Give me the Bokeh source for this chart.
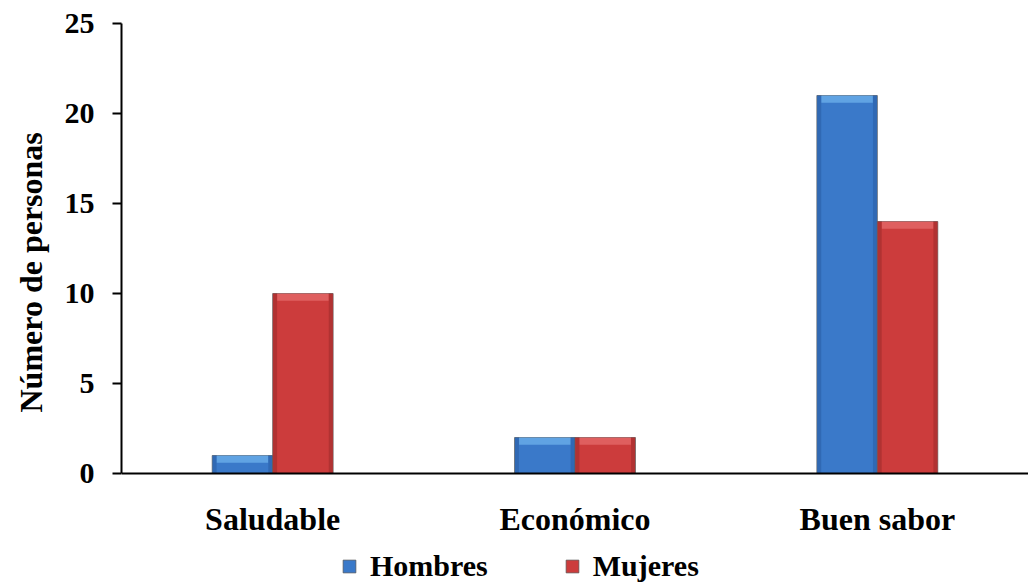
from bokeh.plotting import figure
from bokeh.models import ColumnDataSource, Legend, LegendItem, FactorRange, Range1d, Span, Title
from bokeh.core.properties import value
from bokeh.transform import dodge
from bokeh.embed import file_html
from bokeh.resources import INLINE

# Preferences by sex
categories = ["Saludable", "Económico", "Buen sabor"]
hombres = [1, 2, 21]
mujeres = [10, 2, 14]
series_names = ["Hombres", "Mujeres"]
y_ticks = [0, 5, 10, 15, 20, 25]

FONT = "Liberation Serif"

src = ColumnDataSource(data=dict(
    cat=categories,
    hombres=hombres,
    mujeres=mujeres,
    hombres_hi=[v - min(v * 0.5, 0.4) for v in hombres],
    mujeres_hi=[v - min(v * 0.5, 0.4) for v in mujeres],
))

# the frame reaches down to the canvas edge so the legend can sit under the labels
p = figure(
    x_range=FactorRange(*categories, range_padding=0),
    y_range=Range1d(-6.11, 25),
    width=1028, height=583,
    min_border_left=121, min_border_right=0,
    min_border_top=23, min_border_bottom=0,
    output_backend="svg", toolbar_location=None,
)

# (name, value column, highlight column, offset, fill, side shade, top highlight)
styles = [
    ("Hombres", "hombres", "hombres_hi", -0.1, "#3a79c9", "#2d64ac", "#6aaeea"),
    ("Mujeres", "mujeres", "mujeres_hi", 0.1, "#cc3c3c", "#a82f2f", "#e46868"),
]

legend_items = []
for name, col, hi, off, fill, side, light in styles:
    main = p.vbar(x=dodge("cat", off, range=p.x_range), top=col, width=0.2,
                  source=src, fill_color=fill, line_color="#555555",
                  line_alpha=0.7, line_width=1)
    # darker bevel along both vertical edges
    for d in (-0.092, 0.092):
        p.vbar(x=dodge("cat", off + d, range=p.x_range), top=col, width=0.013,
               source=src, fill_color=side, fill_alpha=0.75, line_color=None)
    # light bevel along the top
    p.vbar(x=dodge("cat", off, range=p.x_range), top=col, bottom=hi, width=0.17,
           source=src, fill_color=light, fill_alpha=0.8, line_color=None)
    legend_items.append(LegendItem(label=name, renderers=[main]))

# category labels under the baseline
p.text(x="cat", y=0, text="cat", source=src, y_offset=45,
       text_align="center", text_baseline="alphabetic",
       text_font=value(FONT), text_font_style="bold", text_font_size="32px",
       text_color="black")

# baseline at zero
p.add_layout(Span(location=0, dimension="width", line_color="black", line_width=2))

p.xgrid.grid_line_color = None
p.ygrid.grid_line_color = None
p.outline_line_color = None
p.background_fill_color = "white"
p.border_fill_color = "white"
p.xaxis.visible = False

# y axis
p.yaxis.ticker = y_ticks
p.yaxis.bounds = (0, 25)
p.yaxis.major_label_text_font = FONT
p.yaxis.major_label_text_font_style = "bold"
p.yaxis.major_label_text_font_size = "30px"
p.yaxis.major_label_text_color = "black"
p.yaxis.major_label_standoff = 18
p.yaxis.major_tick_out = 9
p.yaxis.major_tick_in = 0
p.yaxis.minor_tick_line_color = None
p.yaxis.axis_line_width = 2
p.yaxis.major_tick_line_width = 2
p.yaxis.axis_line_color = "black"
p.yaxis.major_tick_line_color = "black"

# vertical axis title
ytitle = Title(
    text="Número de personas",
    align="left",
    vertical_align="top",
    offset=171,
    standoff=22,
    text_font=FONT,
    text_font_style="bold",
    text_font_size="32px",
    text_color="black",
)
p.add_layout(ytitle, "left")

legend = Legend(
    items=legend_items,
    orientation="horizontal",
    location=(220, 0),
    label_text_font=FONT,
    label_text_font_style="bold",
    label_text_font_size="30px",
    label_text_color="black",
    glyph_width=16, glyph_height=16,
    label_standoff=13,
    spacing=76,
    padding=0, margin=0,
    border_line_color=None,
    background_fill_alpha=0,
)
p.add_layout(legend, "center")

open("out.html", "w").write(file_html(p, INLINE))
